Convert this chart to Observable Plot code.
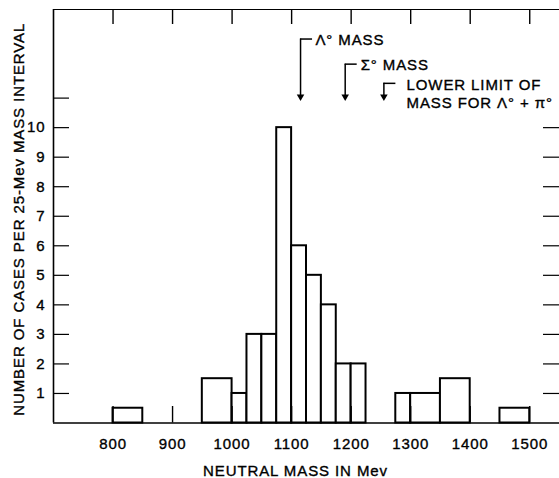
<!DOCTYPE html>
<html>
<head>
<meta charset="utf-8">
<script src="https://cdn.jsdelivr.net/npm/d3@7"></script>
<script src="https://cdn.jsdelivr.net/npm/@observablehq/plot@0.6"></script>
<style>
  html, body { margin: 0; padding: 0; background: white; }
  svg text { letter-spacing: 0.9px; stroke: black; stroke-width: 0.35px; }
</style>
</head>
<body>
<div id="chart"></div>
<script>
// Histogram bins (MeV) and counts per 25-MeV interval
const binStart = [800, 950, 1000, 1025, 1050, 1075, 1100, 1125, 1150, 1175, 1200, 1275, 1300, 1350, 1450];
const binEnd   = [850, 1000, 1025, 1050, 1075, 1100, 1125, 1150, 1175, 1200, 1225, 1300, 1350, 1400, 1500];
const counts   = [0.5, 1.5, 1, 3, 3, 10, 6, 5, 4, 2, 2, 1, 1, 1.5, 0.5];

// Axis ticks
const xTicks = [800, 900, 1000, 1100, 1200, 1300, 1400, 1500];
const yTickLabels = [1, 2, 3, 4, 5, 6, 7, 8, 9, 10];
const leftTicks = [1, 2, 3, 4, 5, 6, 7, 8, 9, 10, 11];
const rightTicks = [1, 2, 3, 4, 5, 6, 7, 8, 9, 10];

// Annotations (mass markers)
const markerX    = [1115, 1190, 1255];
const markerTop  = [13.0, 12.15, 11.5];
const markerTip  = [11, 11, 11];
const markerText = ["Λ° MASS", "Σ° MASS", "LOWER LIMIT OF\nMASS FOR Λ° + π°"];
const textX      = [1140, 1216, 1293];
const textY      = [13.0, 12.15, 11.15];

const xLabel = "NEUTRAL MASS IN Mev";
const yLabel = "NUMBER OF CASES PER 25-Mev MASS INTERVAL";

const xDomain = [700, 1550];
const yDomain = [0, 14];

const bars = binStart.map((s, i) => ({x1: s, x2: binEnd[i], y: counts[i]}));
const markers = markerX.map((x, i) => ({x, top: markerTop[i], tip: markerTip[i], text: markerText[i], tx: textX[i], ty: textY[i]}));

const W = 559, H = 478, mL = 53, mR = 0, mT = 9, mB = 55.5;
const pxPerX = (W - mL - mR) / (xDomain[1] - xDomain[0]);
const pxPerY = (H - mT - mB) / (yDomain[1] - yDomain[0]);
const tickLenX = 16 / pxPerX;   // horizontal tick length in data units
const tickLenY = 15 / pxPerY;   // vertical tick length in data units
const bracketLen = 12 / pxPerX;

const chart = Plot.plot({
  width: W, height: H,
  marginLeft: mL, marginRight: mR, marginTop: mT, marginBottom: mB,
  x: {domain: xDomain, ticks: xTicks, tickSize: 0, tickPadding: 15, tickFormat: "d", label: null},
  y: {domain: yDomain, ticks: yTickLabels, tickSize: 0, tickPadding: 8, tickFormat: "d", label: null},
  style: {fontFamily: "'Liberation Sans', Arial, sans-serif", fontSize: "15px", background: "white", color: "black"},
  marks: [
    Plot.rectY(bars, {x1: "x1", x2: "x2", y: "y", fill: "white", stroke: "black", strokeWidth: 2}),
    // frame
    Plot.ruleY([yDomain[0]], {stroke: "black", strokeWidth: 1.6}),
    Plot.ruleY([yDomain[1]], {stroke: "black", strokeWidth: 1.2}),
    Plot.ruleX([xDomain[0]], {y1: yDomain[0], y2: yDomain[1], stroke: "black", strokeWidth: 1.6}),
    // inward ticks
    Plot.ruleY(leftTicks, {y: d => d, x1: xDomain[0], x2: xDomain[0] + tickLenX, stroke: "black", strokeWidth: 1.2}),
    Plot.ruleY(rightTicks, {y: d => d, x1: xDomain[1] - tickLenX, x2: xDomain[1], stroke: "black", strokeWidth: 1.2}),
    Plot.ruleX(xTicks, {x: d => d, y1: yDomain[1] - tickLenY, y2: yDomain[1], stroke: "black", strokeWidth: 1.4}),
    Plot.ruleX(xTicks, {x: d => d, y1: yDomain[0], y2: yDomain[0] + tickLenY * 1.1, stroke: "black", strokeWidth: 1.4}),
    // annotation brackets
    Plot.ruleX(markers, {x: "x", y1: "top", y2: "tip", stroke: "black", strokeWidth: 1.5}),
    Plot.ruleY(markers, {y: "top", x1: "x", x2: d => d.x + bracketLen, stroke: "black", strokeWidth: 1.5}),
    Plot.dot(markers, {x: "x", y: "tip", symbol: "triangle", r: 2.8, rotate: 180, fill: "black", stroke: "none", dy: -1.5}),
    Plot.text(markers, {x: "tx", y: "ty", text: "text", textAnchor: "start", lineAnchor: "middle", lineHeight: 1.2, fontSize: 15}),
    // axis titles
    Plot.text([xLabel], {frameAnchor: "bottom", textAnchor: "middle", dx: -11, dy: 48.5, lineAnchor: "middle", fontSize: 15}),
    Plot.text([yLabel], {frameAnchor: "left", textAnchor: "middle", dx: -34.5, dy: 3, rotate: -90, lineAnchor: "middle", fontSize: 15})
  ]
});
document.getElementById("chart").appendChild(chart);
</script>
</body>
</html>
